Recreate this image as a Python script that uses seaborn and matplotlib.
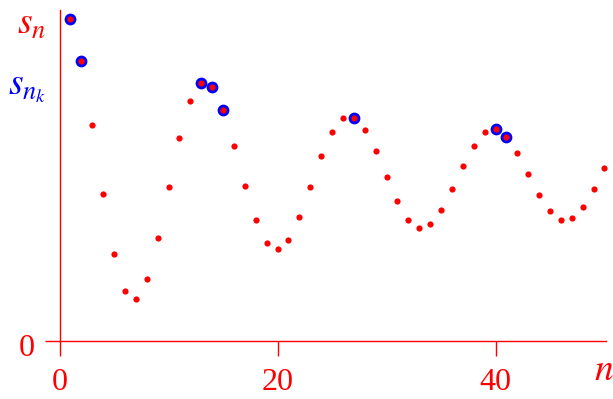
import numpy as np
import pandas as pd
import seaborn as sns
import matplotlib.pyplot as plt
from matplotlib.transforms import ScaledTranslation

# sequence values
n_values = list(range(1, 51))
s_values = [3.22, 2.80, 2.16, 1.47, 0.87, 0.50, 0.42, 0.62, 1.03, 1.54,
            2.03, 2.40, 2.58, 2.54, 2.31, 1.95, 1.55, 1.21, 0.98, 0.92,
            1.01, 1.24, 1.54, 1.85, 2.09, 2.23, 2.23, 2.11, 1.90, 1.64,
            1.40, 1.21, 1.13, 1.17, 1.31, 1.52, 1.75, 1.95, 2.09, 2.12,
            2.04, 1.88, 1.67, 1.46, 1.30, 1.21, 1.23, 1.34, 1.52, 1.73]
# indices of the highlighted subsequence
sub_idx = [1, 2, 13, 14, 15, 27, 40, 41]
x_ticks = [0, 20, 40]
y_ticks = [0]

df = pd.DataFrame({'n': n_values, 's': s_values})
sub = df[df['n'].isin(sub_idx)]

sns.set_style('white')
plt.rcParams['font.family'] = ['Liberation Serif', 'DejaVu Serif']
plt.rcParams['mathtext.fontset'] = 'stix'

red = '#ff0000'
blue = '#0000ff'

fig = plt.figure(figsize=(6.13, 3.99), dpi=100)
ax = fig.add_axes([0, 0, 1, 1])

sns.scatterplot(data=sub, x='n', y='s', ax=ax, color=blue, s=72,
                linewidth=0, zorder=3)
sns.scatterplot(data=df, x='n', y='s', ax=ax, color=red, s=20,
                linewidth=0, zorder=4)

ax.set_xlim(-5.46, 50.78)
ax.set_ylim(-0.58, 3.41)

for side in ['top', 'right']:
    ax.spines[side].set_visible(False)
ax.spines['left'].set_position(('data', 0))
ax.spines['bottom'].set_position(('data', 0))
ax.spines['left'].set_bounds(0, 3.31)
ax.spines['bottom'].set_bounds(0, 50.1)
for side in ['left', 'bottom']:
    ax.spines[side].set_color(red)
    ax.spines[side].set_linewidth(1.0)

ax.set_xticks(x_ticks)
ax.set_yticks(y_ticks)
ax.tick_params(axis='both', direction='out', length=10.8, width=1.0,
               color=red, labelcolor=red, labelsize=23,
               bottom=True, left=True)
ax.tick_params(axis='x', pad=8.5)
ax.tick_params(axis='y', pad=7)
ax.set_xlabel('')
ax.set_ylabel('')

# nudge the y tick label down a little, as in the reference
for lab in ax.get_yticklabels():
    lab.set_transform(lab.get_transform() +
                      ScaledTranslation(0, -0.04, fig.dpi_scale_trans))

H = 399
ax.text(32, H - 25, r'$s_n$', transform=None, color=red, fontsize=27,
        ha='center', va='center')
ax.text(27, H - 88, r'$s_{n_k}$', transform=None, color=blue, fontsize=27,
        ha='center', va='center')
ax.text(604, H - 371, r'$n$', transform=None, color=red, fontsize=27,
        ha='center', va='center')

fig.savefig('out.png', dpi=100)
